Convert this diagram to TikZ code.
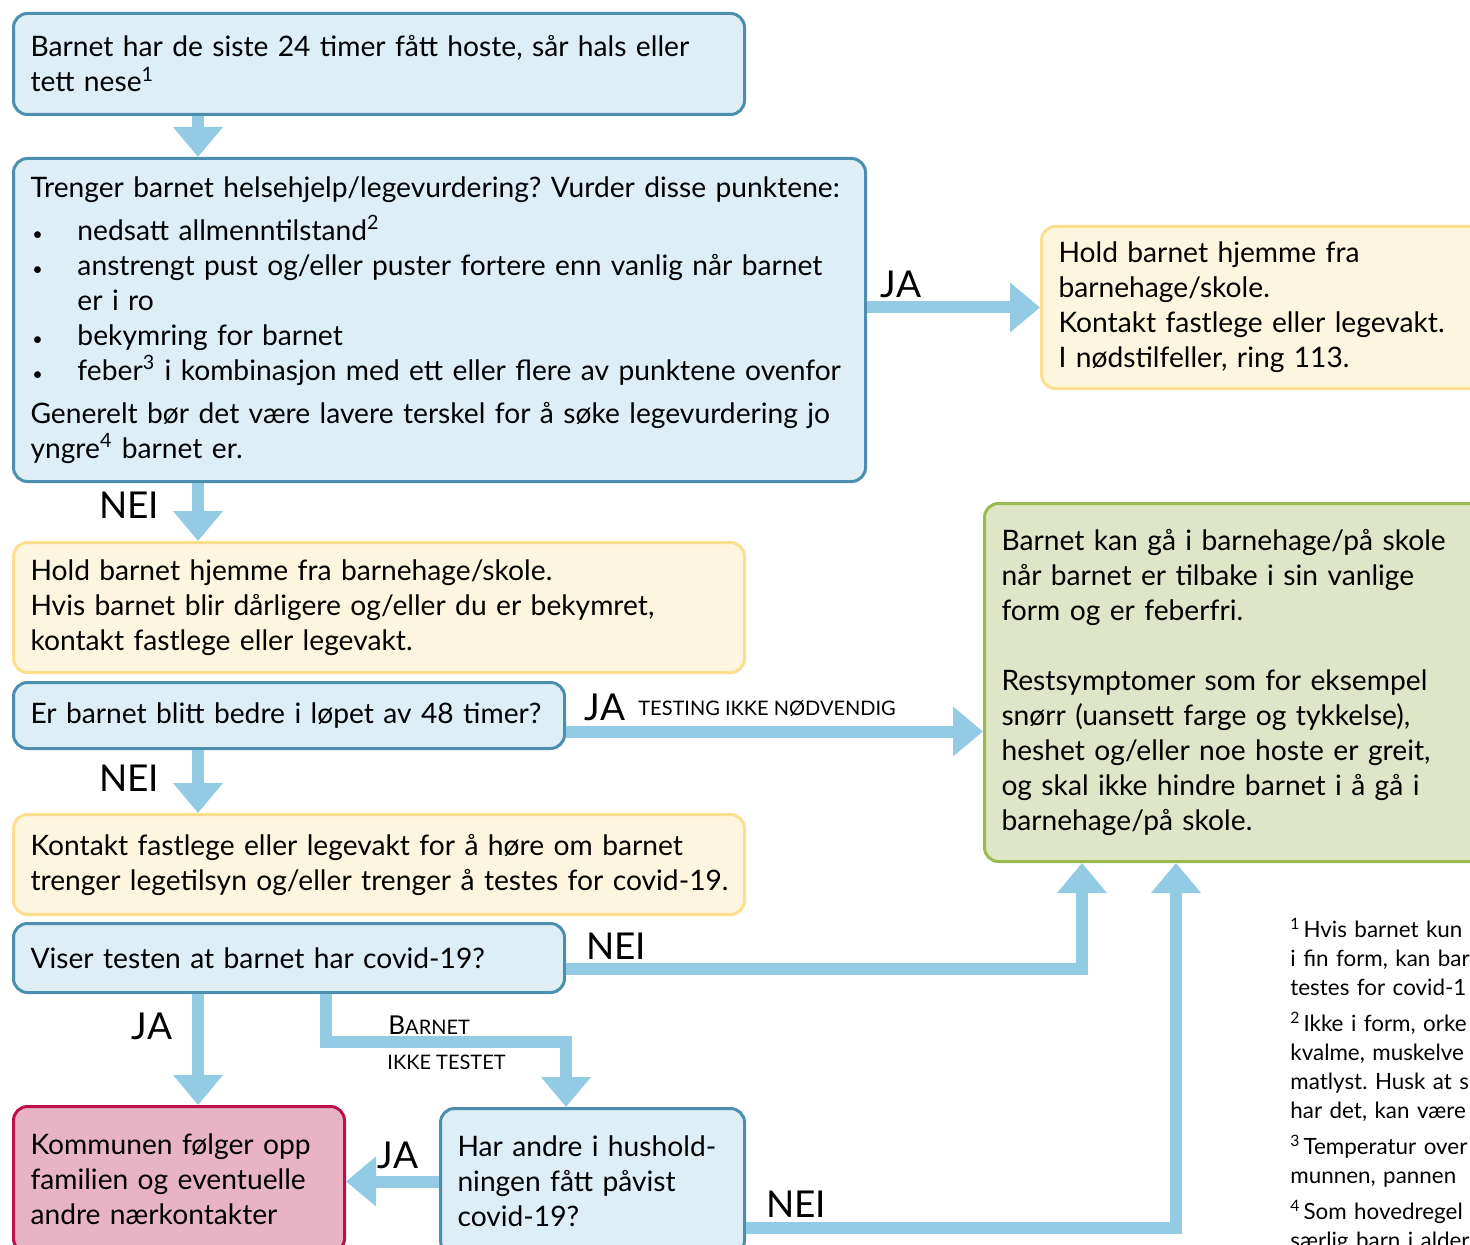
\documentclass[tikz,border=0pt]{standalone}
\usepackage{fontspec}
\setmainfont{Lato}
\usepackage{tikz}
\usetikzlibrary{positioning, arrows.meta}
\definecolor{askfill}{HTML}{DDEEF7}
\definecolor{askline}{HTML}{4C8EAD}
\definecolor{homefill}{HTML}{FDF5DD}
\definecolor{homeline}{HTML}{FCDF8E}
\definecolor{okfill}{HTML}{DFE6C7}
\definecolor{okline}{HTML}{98BA4E}
\definecolor{alertfill}{HTML}{E8B3C5}
\definecolor{alertline}{HTML}{BA1248}
\definecolor{flowblue}{HTML}{93CAE4}
\frenchspacing
\newcommand{\itm}{\makebox[23.5pt][l]{\hspace{1pt}{\fontsize{9}{9}\selectfont\textbullet}}}
\newcommand{\fn}[1]{\textsuperscript{#1}\hspace{1.5pt}}
\tikzset{
    box/.style={ % Sets the properties for each box
        draw, rounded corners=7pt, line width=1.5pt,
        anchor=north west, align=left,
        inner xsep=8.5pt, inner ysep=0pt,
        font=\fontsize{14.1}{17.5}\selectfont
    },
    flow/.style={ % Thick light blue connectors
        draw=flowblue, line width=6pt,
        -{Triangle[width=24pt,length=15pt]}
    }
}
\begin{document}
\begin{tikzpicture}[x=0.5pt,y=-0.5pt]
        \tikzset{
            ask/.style={box,draw=askline,fill=askfill},
            home/.style={box,draw=homeline,fill=homefill},
            ok/.style={box,draw=okline,fill=okfill},
            alert/.style={box,draw=alertline,fill=alertfill},
            %
            yesno/.style={font=\fontsize{18.5}{20}\selectfont,inner sep=0pt},
            small/.style={font=\fontsize{10}{12}\selectfont,inner sep=0pt},
        }
        \useasboundingbox (0,0) rectangle (1470,1245);
        \clip (0,0) rectangle (1470,1245);
        
        \node[ask,text width=348.5pt,minimum height=50.5pt] (start) at (12,12)
            {Barnet har de siste 24 timer fått hoste, sår hals eller\\tett nese\textsuperscript{1}};
        \node[ask,text width=409pt,minimum height=161.5pt] (assess) at (12,157)
            {Trenger barnet helsehjelp/legevurdering? Vurder disse punktene:\\[4pt]
             \itm nedsatt allmenntilstand\textsuperscript{2}\\
             \itm anstrengt pust og/eller puster fortere enn vanlig når barnet\\
             \hspace*{23.5pt}er i ro\\
             \itm bekymring for barnet\\
             \itm feber\textsuperscript{3} i kombinasjon med ett eller flere av punktene ovenfor\\[4pt]
             Generelt bør det være lavere terskel for å søke legevurdering jo\\
             yngre\textsuperscript{4} barnet er.};
        \node[home,text width=223pt,minimum height=81pt] (keephome) at (1040,225)
            {Hold barnet hjemme fra\\barnehage/skole.\\Kontakt fastlege eller legevakt.\\I nødstilfeller, ring 113.};
        \node[home,text width=348.5pt,minimum height=65pt] (homecare) at (12,541)
            {Hold barnet hjemme fra barnehage/skole.\\
             Hvis barnet blir dårligere og/eller du er bekymret,\\
             kontakt fastlege eller legevakt.};
        \node[ask,text width=258.5pt,minimum height=33pt] (better) at (12,681)
            {Er barnet blitt bedre i løpet av 48 timer?};
        \node[ok,text width=243pt,minimum height=179pt] (school) at (983,502)
            {Barnet kan gå i barnehage/på skole\\
             når barnet er tilbake i sin vanlige\\
             form og er feberfri.\\[17.5pt]
             Restsymptomer som for eksempel\\
             snørr (uansett farge og tykkelse),\\
             heshet og/eller noe hoste er greit,\\
             og skal ikke hindre barnet i å gå i\\
             barnehage/på skole.};
        \node[home,text width=348.5pt,minimum height=50pt] (contact) at (12,813)
            {\mbox{Kontakt fastlege eller legevakt for å høre om barnet}\\
             \mbox{trenger legetilsyn og/eller trenger å testes for covid-19.}};
        \node[ask,text width=258.5pt,minimum height=34.5pt] (result) at (12,922)
            {Viser testen at barnet har covid-19?};
        \node[alert,text width=148.5pt,minimum height=73pt] (followup) at (12,1105)
            {Kommunen følger opp\\familien og eventuelle\\andre nærkontakter};
        \node[ask,text width=135pt,minimum height=73pt] (household) at (439,1107)
            {Har andre i hushold-\\ningen fått påvist\\covid-19?};
        
        % footnotes, cut off by the page edge
        \node[anchor=north west,align=left,inner sep=0pt,text width=200pt,
              font=\fontsize{11.2}{14.5}\selectfont] (notes) at (1290,918)
            {\fn{1}Hvis barnet kun\\i fin form, kan bar\\testes for covid-1\\[3.5pt]
             \fn{2}Ikke i form, orke\\kvalme, muskelve\\matlyst. Husk at s\\har det, kan være\\[3.5pt]
             \fn{3}Temperatur over\\munnen, pannen\\[3.5pt]
             \fn{4}Som hovedregel\\særlig barn i alder};
        
        \coordinate (colA) at (198,0);
        \coordinate (colB) at (1082,0);
        \coordinate (colC) at (1176,0);
        \coordinate (colD) at (326,0);
        \coordinate (kink) at (566,1042);
        \coordinate (ja2s) at ([yshift=-8pt]better.east);
        \coordinate (nei3s) at ([yshift=-5.25pt]result.east);
        \coordinate (nei4s) at ([yshift=-23pt]household.east);
        
        \draw[flow] (start.south -| colA) -- (assess.north -| colA);
        \draw[flow] (keephome.west -| assess.east) -- (keephome.west);
        \draw[flow] (assess.south -| colA) -- (homecare.north -| colA);
        \draw[flow] (ja2s) -- (ja2s -| school.west);
        \draw[flow] (better.south -| colA) -- (contact.north -| colA);
        \draw[flow] (nei3s) -| (school.south -| colB);
        \draw[flow] (result.south -| colA) -- (followup.north -| colA);
        \draw[flow] (result.south -| colD) |- (kink) -- (household.north -| kink);
        \draw[flow] (household.west) -- (household.west -| followup.east);
        \draw[flow] (nei4s) -| (school.south -| colC);
        
        \node[yesno] (ja1) at (901,284) {JA};
        \node[yesno] (nei1) at (129,505) {NEI};
        \node[yesno] (ja2) at (605,707) {JA};
        \node[small,anchor=west] (notest) at (638,709) {TESTING IKKE NØDVENDIG};
        \node[yesno] (nei2) at (129,778) {NEI};
        \node[yesno] (nei3) at (616,946) {NEI};
        \node[yesno] (ja3) at (152,1026) {JA};
        \node[small,anchor=west] (untested1) at (388,1025) {{\fontsize{13}{14}\selectfont B}ARNET};
        \node[small,anchor=west] (untested2) at (387,1062) {IKKE TESTET};
        \node[yesno] (ja4) at (398,1155) {JA};
        \node[yesno] (nei4) at (796,1204) {NEI};
\end{tikzpicture}
\end{document}
